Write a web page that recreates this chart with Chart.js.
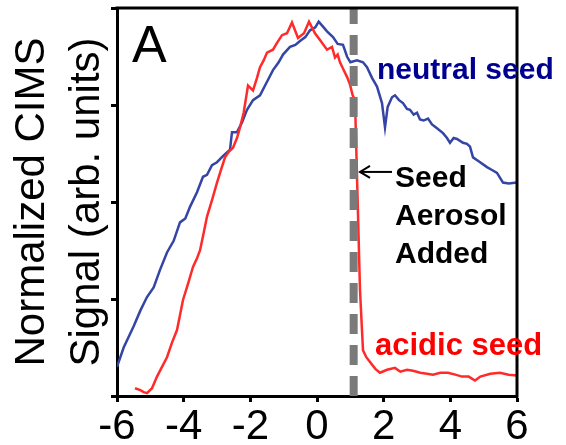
<!DOCTYPE html>
<html>
<head>
<meta charset="utf-8">
<script src="https://cdn.jsdelivr.net/npm/chart.js@4.4.1/dist/chart.umd.min.js"></script>
<style>
  body { margin: 0; background: #fff; }
  canvas { display: block; }
</style>
</head>
<body>
<canvas id="myChart" width="566" height="445"></canvas>
<script>
// time axis (x) and normalized signal (y) for each run
var neutralX = [-6.0, -5.8, -5.5, -5.3, -5.1, -4.9, -4.71, -4.5, -4.3, -4.11, -3.95, -3.81, -3.6, -3.42, -3.3, -3.15, -3.0, -2.8, -2.61, -2.55,
  -2.4, -2.25, -2.1, -1.92, -1.71, -1.5, -1.32, -1.15, -1.02, -0.81, -0.65, -0.51, -0.35, -0.21, -0.05, 0.05, 0.2, 0.3, 0.48, 0.62,
  0.78, 0.9, 1.0, 1.2, 1.38, 1.5, 1.65, 1.8, 1.95, 2.04, 2.12, 2.25, 2.34, 2.46, 2.58, 2.7, 2.79, 2.9, 3.0, 3.09,
  3.2, 3.33, 3.45, 3.6, 3.78, 3.9, 3.99, 4.1, 4.2, 4.38, 4.5, 4.59, 4.68, 4.85, 5.1, 5.25, 5.4, 5.58, 5.75, 6.0];
var neutralY = [0.30, 0.50, 0.72, 0.88, 1.02, 1.12, 1.30, 1.48, 1.60, 1.79, 1.83, 1.95, 2.10, 2.26, 2.28, 2.38, 2.41, 2.48, 2.54, 2.72,
  2.72, 2.82, 2.95, 3.05, 3.10, 3.24, 3.36, 3.44, 3.52, 3.60, 3.62, 3.66, 3.70, 3.77, 3.80, 3.86, 3.80, 3.76, 3.70, 3.63,
  3.62, 3.50, 3.44, 3.46, 3.44, 3.39, 3.28, 3.19, 3.02, 2.77, 2.98, 3.08, 3.10, 3.05, 3.02, 2.96, 2.95, 2.90, 2.92, 2.85,
  2.84, 2.86, 2.80, 2.76, 2.71, 2.66, 2.61, 2.66, 2.65, 2.61, 2.60, 2.57, 2.46, 2.42, 2.36, 2.33, 2.30, 2.20, 2.19, 2.20];

var acidicX = [-5.46, -5.3, -5.2, -5.1, -4.95, -4.8, -4.65, -4.5, -4.35, -4.2, -4.02, -3.85, -3.72, -3.6, -3.51, -3.4, -3.3, -3.15, -3.0, -2.88,
  -2.76, -2.64, -2.52, -2.4, -2.31, -2.2, -2.07, -1.92, -1.8, -1.71, -1.6, -1.5, -1.32, -1.2, -1.05, -0.9, -0.75, -0.57, -0.39, -0.24,
  -0.06, 0.09, 0.3, 0.45, 0.54, 0.62, 0.69, 0.8, 0.9, 0.99, 1.07, 1.14, 1.29, 1.38, 1.48, 1.59, 1.75, 1.89, 2.1, 2.34,
  2.5, 2.7, 2.88, 3.1, 3.3, 3.48, 3.7, 3.93, 4.15, 4.35, 4.55, 4.74, 4.9, 5.2, 5.49, 5.75, 6.0];
var acidicY = [0.08, 0.06, 0.04, 0.03, 0.08, 0.20, 0.30, 0.40, 0.55, 0.68, 0.99, 1.18, 1.33, 1.42, 1.50, 1.68, 1.85, 2.02, 2.20, 2.33,
  2.46, 2.52, 2.56, 2.66, 2.77, 2.92, 3.20, 3.15, 3.28, 3.39, 3.46, 3.54, 3.57, 3.64, 3.72, 3.74, 3.85, 3.69, 3.74, 3.86,
  3.74, 3.67, 3.57, 3.60, 3.49, 3.52, 3.44, 3.36, 3.29, 3.21, 3.10, 3.05, 1.09, 0.47, 0.40, 0.35, 0.28, 0.24, 0.27, 0.29,
  0.25, 0.27, 0.26, 0.24, 0.23, 0.22, 0.24, 0.24, 0.22, 0.20, 0.20, 0.16, 0.20, 0.23, 0.24, 0.22, 0.21];

var seedTime = 1.1;
var xTicks = [-6, -4, -2, 0, 2, 4, 6];
var yTicks = [0, 1, 2, 3, 4];

var FONT = '"Liberation Sans", Arial, sans-serif';

function toPoints(xs, ys) {
	var pts = [];
	for (var i in xs) {
		pts.push({ x: xs[i], y: ys[i] });
	}
	return pts;
}

// text drawn over the plot, placed in data units
var notes = [
	{ text: 'A', x: -5.55, y: 3.44, color: '#000', font: '52px ' + FONT },
	{ text: 'neutral seed', x: 1.8, y: 3.27, color: '#000090', font: 'bold 30px ' + FONT },
	{ text: 'acidic seed', x: 1.74, y: 0.42, color: '#ff0000', font: 'bold 31px ' + FONT },
	{ text: 'Seed', x: 2.34, y: 2.155, color: '#000', font: 'bold 30px ' + FONT },
	{ text: 'Aerosol', x: 2.34, y: 1.763, color: '#000', font: 'bold 30px ' + FONT },
	{ text: 'Added', x: 2.34, y: 1.371, color: '#000', font: 'bold 30px ' + FONT }
];

var framePlugin = {
	id: 'frame',
	afterDraw: function(chart) {
		var ctx = chart.ctx, a = chart.chartArea;
		var sx = chart.scales.x, sy = chart.scales.y;
		ctx.save();
		// top and right border
		ctx.strokeStyle = '#000';
		ctx.lineWidth = 3;
		ctx.beginPath();
		ctx.moveTo(a.left - 1.5, a.top);
		ctx.lineTo(a.right, a.top);
		ctx.lineTo(a.right, a.bottom + 1.5);
		ctx.stroke();

		ctx.textBaseline = 'alphabetic';
		ctx.textAlign = 'left';
		for (var i in notes) {
			var n = notes[i];
			ctx.font = n.font;
			ctx.fillStyle = n.color;
			ctx.fillText(n.text, sx.getPixelForValue(n.x), sy.getPixelForValue(n.y));
		}

		// arrow pointing at the seed line
		var ay = sy.getPixelForValue(2.31);
		var x0 = sx.getPixelForValue(2.25), x1 = sx.getPixelForValue(1.29);
		ctx.strokeStyle = '#000';
		ctx.lineWidth = 2;
		ctx.beginPath();
		ctx.moveTo(x0, ay);
		ctx.lineTo(x1 + 2, ay);
		ctx.stroke();
		ctx.beginPath();
		ctx.moveTo(x1 + 10, ay - 6);
		ctx.lineTo(x1, ay);
		ctx.lineTo(x1 + 10, ay + 6);
		ctx.stroke();
		ctx.restore();
	}
};

var ctx = document.getElementById('myChart');
var myChart = new Chart(ctx, {
	type: 'line',
	data: {
		datasets: [{
			label: 'seed added',
			data: [{ x: seedTime, y: 0 }, { x: seedTime, y: 4 }],
			borderColor: '#7a7a7a',
			borderWidth: 8,
			borderDash: [20, 11],
			pointRadius: 0,
			order: 0
		}, {
			label: 'acidic seed',
			data: toPoints(acidicX, acidicY),
			borderColor: '#ff2a2a',
			borderWidth: 2.5,
			pointRadius: 0,
			tension: 0,
			order: 1
		}, {
			label: 'neutral seed',
			data: toPoints(neutralX, neutralY),
			borderColor: '#3445a5',
			borderWidth: 2.5,
			pointRadius: 0,
			tension: 0,
			order: 2
		}]
	},
	options: {
		responsive: false,
		animation: false,
		layout: { padding: { top: 8, right: 49, left: 0, bottom: 0 } },
		plugins: {
			legend: { display: false },
			tooltip: { enabled: false }
		},
		scales: {
			x: {
				type: 'linear',
				min: -6,
				max: 6,
				afterBuildTicks: function(scale) {
					scale.ticks = xTicks.map(function(v) { return { value: v }; });
				},
				afterFit: function(scale) { scale.height = 49; },
				border: { color: '#000', width: 3 },
				grid: { drawOnChartArea: false, drawTicks: true, tickLength: 6, tickWidth: 3, tickColor: '#000' },
				ticks: { color: '#000', font: { family: FONT, size: 42 }, padding: 0, maxRotation: 0, autoSkip: false }
			},
			y: {
				min: 0,
				max: 4,
				afterBuildTicks: function(scale) {
					scale.ticks = yTicks.map(function(v) { return { value: v }; });
				},
				afterFit: function(scale) { scale.width = 117; },
				border: { color: '#000', width: 3 },
				grid: { drawOnChartArea: false, drawTicks: true, tickLength: 6, tickWidth: 3, tickColor: '#000' },
				ticks: { display: false },
				title: {
					display: true,
					text: ['Normalized CIMS', 'Signal (arb. units)'],
					color: '#000',
					font: { family: FONT, size: 42, lineHeight: 1.31 },
					padding: { top: 5, bottom: 0 }
				}
			}
		}
	},
	plugins: [framePlugin]
});
</script>
</body>
</html>
